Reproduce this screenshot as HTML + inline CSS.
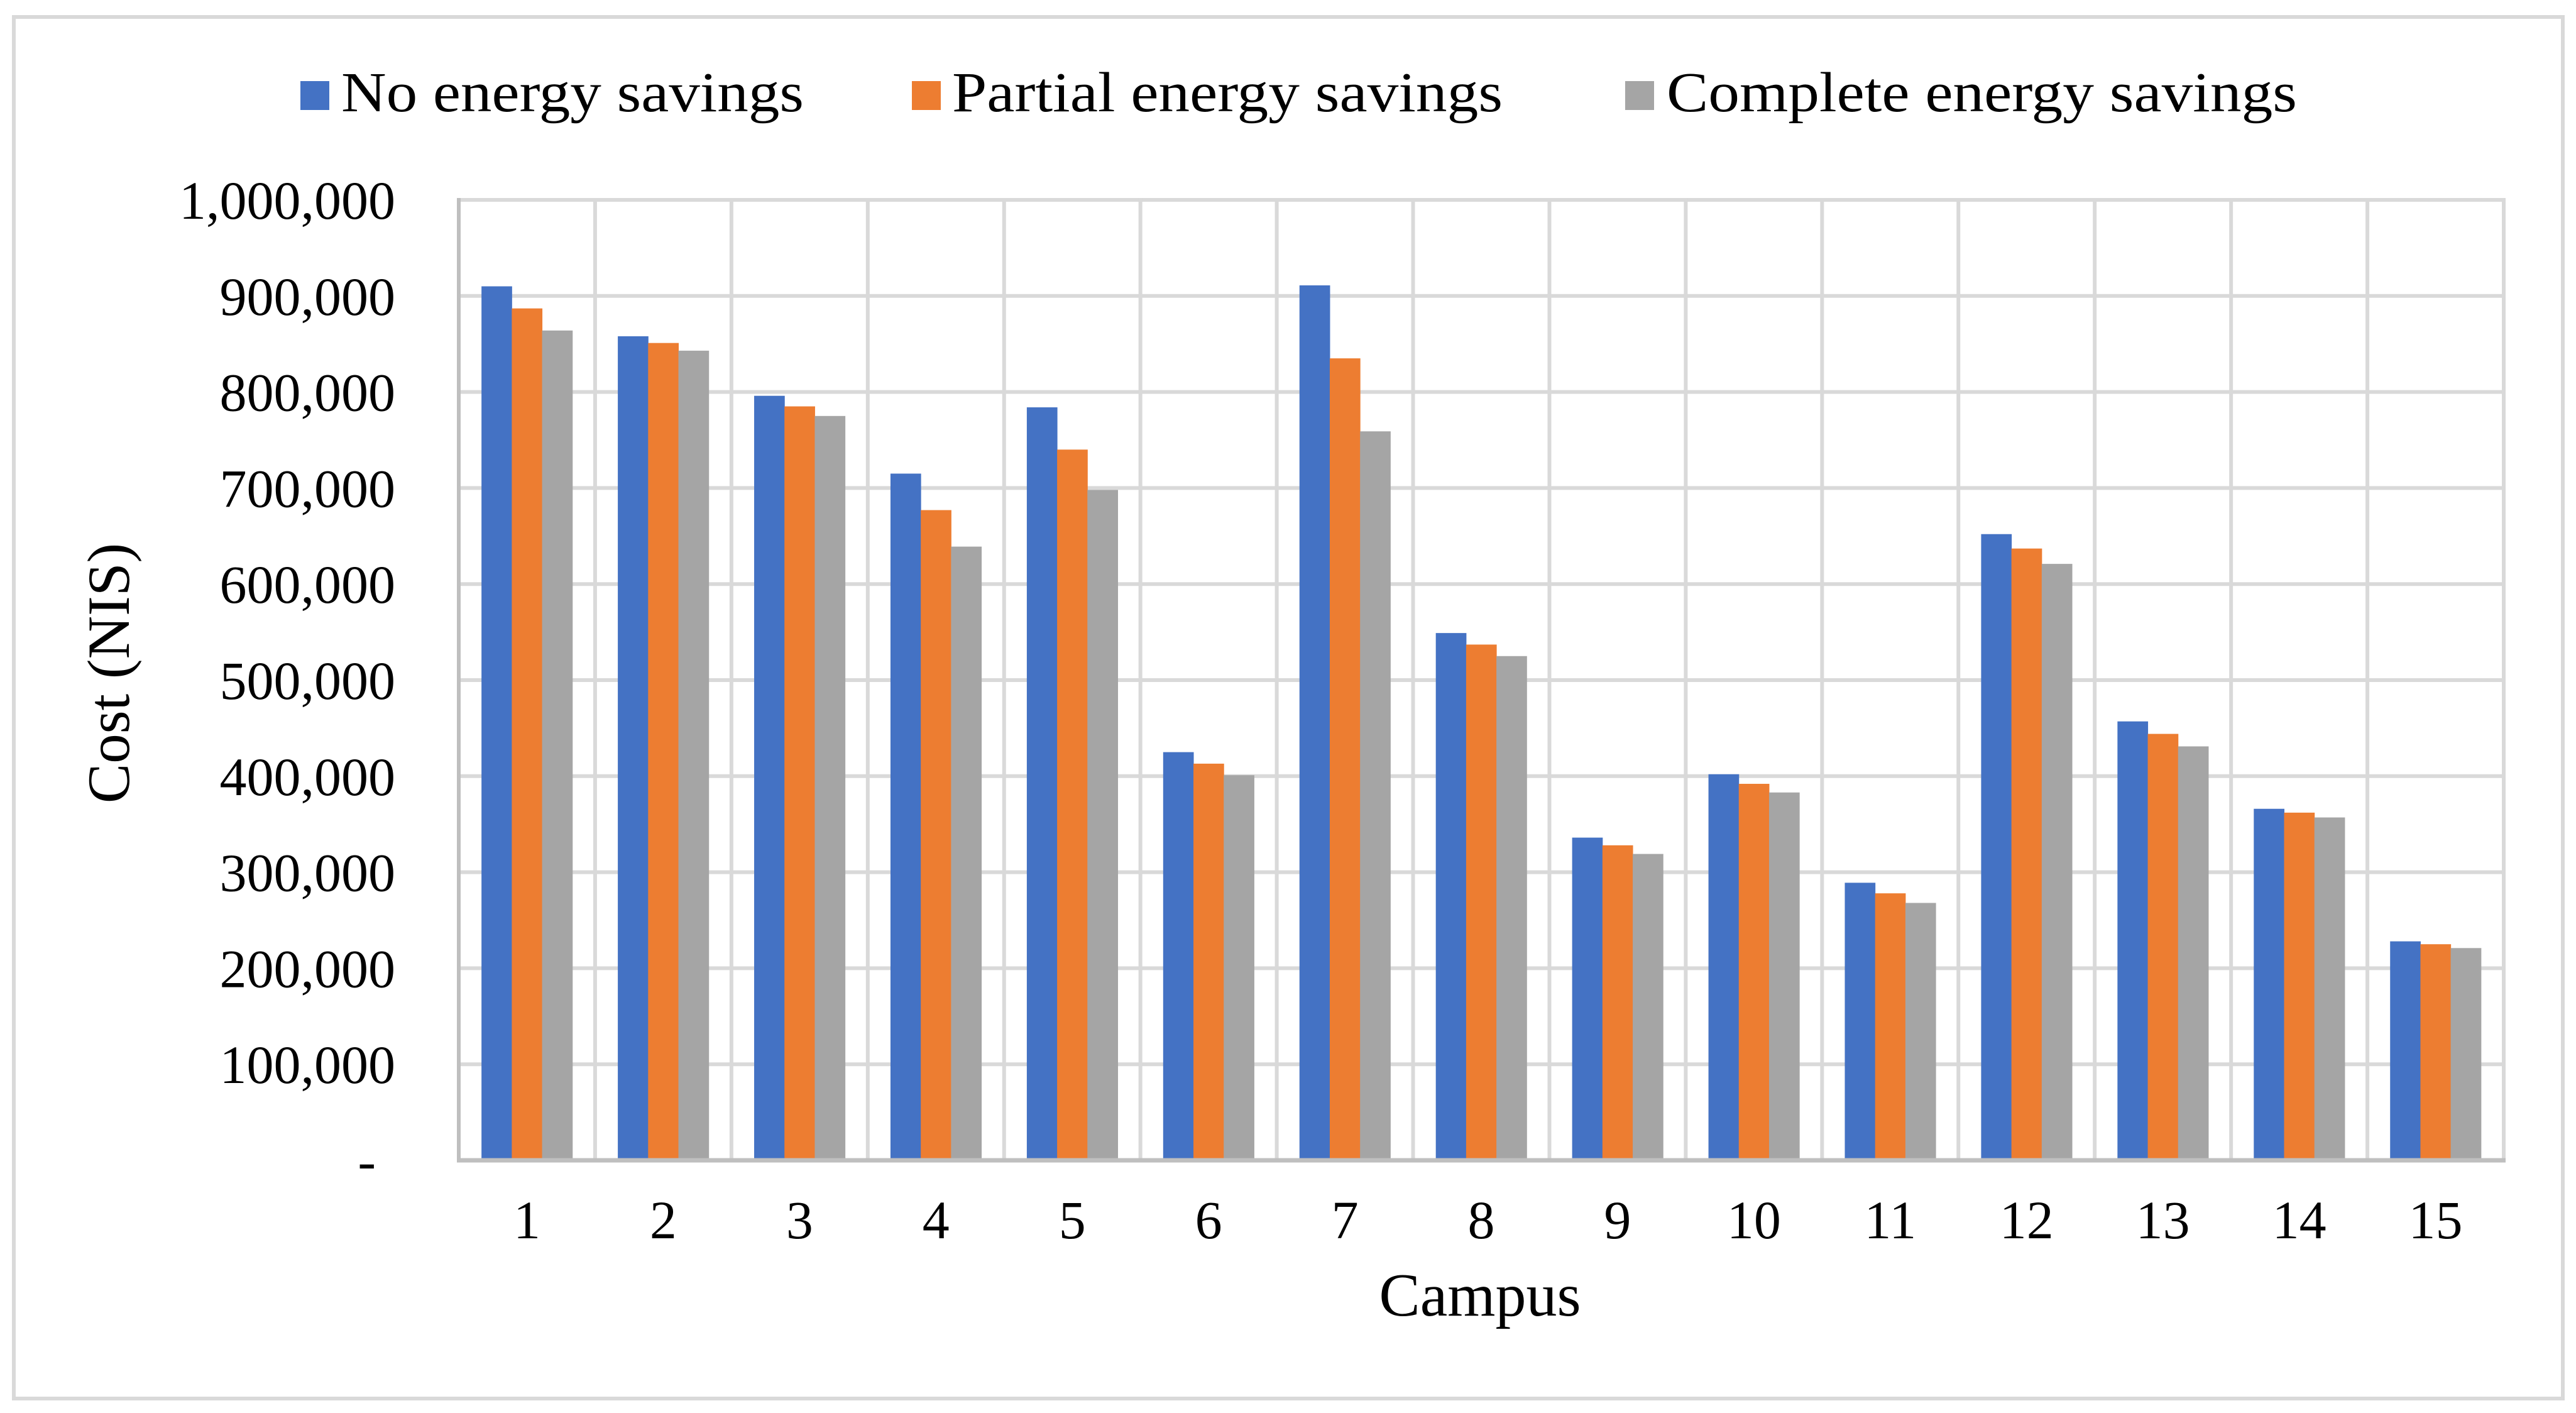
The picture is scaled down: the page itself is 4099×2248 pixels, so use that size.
<!DOCTYPE html>
<html><head><meta charset="utf-8"><style>
html,body{margin:0;padding:0;background:#fff}
svg{display:block}
text{font-family:"Liberation Serif",serif;fill:#000}
</style></head><body>
<svg id="chart" width="4099" height="2248" viewBox="0 0 4099 2248" xmlns="http://www.w3.org/2000/svg">
<rect x="0" y="0" width="4099" height="2248" fill="#fff"/>
<rect x="22" y="27" width="4056" height="2198" fill="none" stroke="#d9d9d9" stroke-width="6"/>
<g id="grid"></g>
<g id="bars"></g>
<g id="axes"></g>
<g>
<rect x="478" y="129" width="46" height="46" fill="#4472c4"/>
<text x="543" y="177" font-size="90" textLength="736" lengthAdjust="spacingAndGlyphs">No energy savings</text>
<rect x="1451" y="129" width="46" height="46" fill="#ed7d31"/>
<text x="1515" y="177" font-size="90" textLength="876" lengthAdjust="spacingAndGlyphs">Partial energy savings</text>
<rect x="2586" y="129" width="46" height="46" fill="#a5a5a5"/>
<text x="2652" y="177" font-size="90" textLength="1003" lengthAdjust="spacingAndGlyphs">Complete energy savings</text>
</g>
<text x="2355" y="2093" font-size="98" text-anchor="middle">Campus</text>
<text transform="translate(205,1071) rotate(-90)" font-size="95" text-anchor="middle">Cost (NIS)</text>
</svg>
<script>
const categories = ["1","2","3","4","5","6","7","8","9","10","11","12","13","14","15"];
const noSavings = [910000,858000,796000,715000,784000,425000,911000,549000,336000,402000,289000,652000,457000,366000,228000];
const partialSavings = [887000,851000,785000,677000,740000,413000,835000,537000,328000,392000,278000,637000,444000,362000,225000];
const completeSavings = [864000,843000,775000,639000,698000,401000,759000,525000,319000,383000,268000,621000,431000,357000,221000];
const yTicks = [0,100000,200000,300000,400000,500000,600000,700000,800000,900000,1000000];
const yTickLabels = ["-","100,000","200,000","300,000","400,000","500,000","600,000","700,000","800,000","900,000","1,000,000"];

const NS = "http://www.w3.org/2000/svg";
const L = 730, R = 3984, T = 318, B = 1846, YMAX = 1000000;
const catW = (R - L) / categories.length;
const barW = catW / 4.5;
function y(v){ return B - (v / YMAX) * (B - T); }
function xc(i){ return L + catW * (i + 0.5); }
function mk(tag, attrs, parent){
  const el = document.createElementNS(NS, tag);
  for (const k in attrs) el.setAttribute(k, attrs[k]);
  parent.appendChild(el);
  return el;
}
const grid = document.getElementById('grid');
const bars = document.getElementById('bars');
const axes = document.getElementById('axes');

yTicks.forEach((t, i) => {
  if (t > 0) {
    const g = mk('line', {x1:L, x2:R, y1:y(t), y2:y(t), stroke:'#d9d9d9', 'stroke-width':6}, grid);
    
    
  }
  const lab = mk('text', {x: t === 0 ? 598 : 629, y: y(t) + 30, 'font-size': 86, 'text-anchor': 'end'}, axes);
  lab.textContent = yTickLabels[i];
  
  
});
for (let i = 0; i <= categories.length; i++) {
  const x = L + catW * i;
  const g = mk('line', {x1:x, x2:x, y1:T - 3, y2:B, stroke: i === 0 ? '#bfbfbf' : '#d9d9d9', 'stroke-width':6}, grid);
  
  
}
const series = [[noSavings,'#4472c4','no-savings'],[partialSavings,'#ed7d31','partial-savings'],[completeSavings,'#a5a5a5','complete-savings']];
categories.forEach((c, i) => {
  series.forEach((s, k) => {
    const x0 = xc(i) - 1.5 * barW + k * barW;
    const b = mk('rect', {x:x0, y:y(s[0][i]), width:barW + 0.5, height:B - y(s[0][i]), fill:s[1]}, bars);
    
    
  });
  const t = mk('text', {x:xc(i), y:1970, 'font-size':86, 'text-anchor':'middle'}, axes);
  t.textContent = c;
  
  
});
const ax = mk('line', {x1:L - 3, x2:R + 3, y1:B, y2:B, stroke:'#bfbfbf', 'stroke-width':7}, axes);


</script>
</body></html>
